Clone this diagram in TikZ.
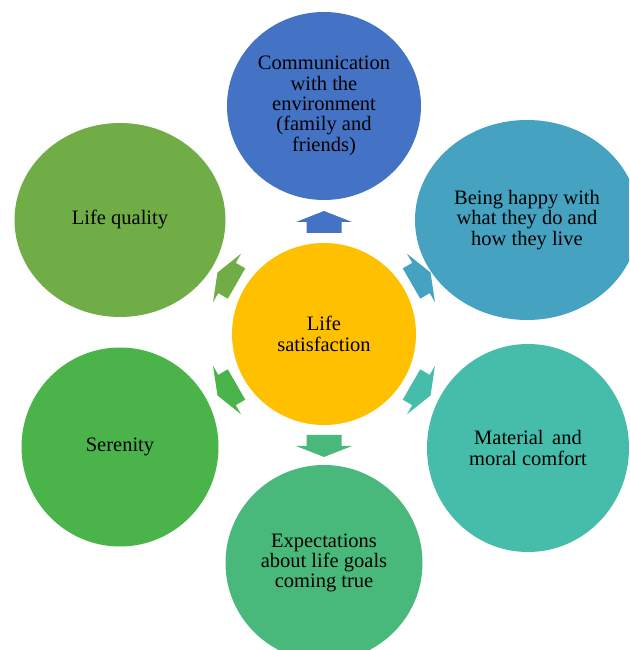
\documentclass[tikz,border=0pt]{standalone}
\usepackage{fontspec}
\setmainfont{Liberation Serif}
\usetikzlibrary{shapes.geometric}
\definecolor{cBlue}{HTML}{4472C4}
\definecolor{cTeal}{HTML}{45A3C1}
\definecolor{cAqua}{HTML}{46BDAA}
\definecolor{cMint}{HTML}{48B97A}
\definecolor{cGreen}{HTML}{4AB34A}
\definecolor{cLeaf}{HTML}{70AD47}
\definecolor{cGold}{HTML}{FFC000}
\tikzset{
  bubble/.style={ellipse, inner sep=0pt, align=center, text=black,
    font=\fontsize{20.5}{20.3}\selectfont}
}
\begin{document}
\begin{tikzpicture}[x=1pt,y=1pt]
\useasboundingbox (0,0) rectangle (629,650);
\clip (0,0) rectangle (629,650);
\fill[white] (0,0) rectangle (629,650);
\node[bubble, fill=cGold, minimum width=184pt, minimum height=182pt] (center) at (324,316) {Life\\satisfaction};
\node[bubble, fill=cBlue, minimum width=194pt, minimum height=188pt] (comm) at (324,544) {Communication\\with the\\environment\\(family and\\friends)};
\node[bubble, fill=cTeal, minimum width=224pt, minimum height=200pt] (happy) at (527,430) {Being happy with\\what they do and\\how they live};
\node[bubble, fill=cAqua, minimum width=202pt, minimum height=208pt] (comfort) at (528,202) {Material\, and\\moral comfort};
\node[bubble, fill=cMint, minimum width=197pt, minimum height=196pt] (expect) at (324,87) {Expectations\\about life goals\\coming true};
\node[bubble, fill=cGreen, minimum width=197pt, minimum height=199pt] (seren) at (120,203) {Serenity};
\node[bubble, fill=cLeaf, minimum width=211pt, minimum height=194pt] (quality) at (120,430) {Life quality};
\foreach \ang/\col in {90/cBlue, 30/cTeal, -30/cAqua, -90/cMint, 210/cGreen, 150/cLeaf}{
  \begin{scope}[shift={(center.center)}, rotate=\ang]
    \fill[\col] (101,-17.5) -- (112,-17.5) -- (112,-28) -- (123,0) -- (112,28) -- (112,17.5) -- (101,17.5) -- cycle;
  \end{scope}
}
\end{tikzpicture}
\end{document}
